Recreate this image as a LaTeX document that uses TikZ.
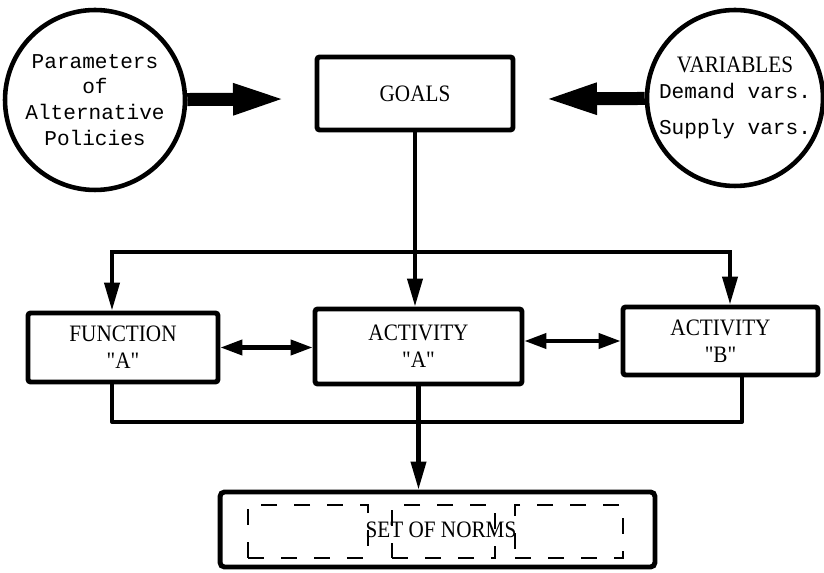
\documentclass[tikz,border=0pt]{standalone}
\usepackage{fontspec}
\setmainfont{Liberation Serif}[Ligatures=TeXOff, FakeStretch=0.9]
\setmonofont{Liberation Mono}
\usepackage{tikz}
\usetikzlibrary{positioning}
\usetikzlibrary{calc}
\usetikzlibrary{arrows.meta}

\begin{document}
\begin{tikzpicture}[x=0.02cm, y=-0.02cm]
	\tikzstyle{circ}=[circle, draw=black, line width=2.6pt, inner sep=0pt, align=center, font=\fontsize{12}{14.7}\ttfamily]
	\tikzstyle{box}=[rectangle, draw=black, line width=2.8pt, rounded corners=1.5pt, align=center, font=\fontsize{13.4}{15.3}\selectfont]
	\tikzstyle{normbox}=[rectangle, draw=black, line width=1.3pt, dash pattern=on 0.32cm off 0.34cm, minimum height=1.06cm]
	\tikzstyle{fat}=[line width=7.4pt, -{Triangle[length=1.08cm, width=0.56cm]}]
	\tikzstyle{link}=[line width=2.3pt, >={Triangle[length=0.56cm, width=0.3cm]}]
	\tikzstyle{twin}=[line width=2.3pt, {Triangle[length=0.44cm, width=0.3cm]}-{Triangle[length=0.44cm, width=0.3cm]}]

	\useasboundingbox (0,0) rectangle (824,573);

	\draw node at (95, 100) [circ, minimum size=3.6cm] (param) {Parameters\\of\\Alternative\\Policies};
	\draw node at (735, 98) [circ, minimum size=3.52cm] (vars) {{\rmfamily\fontsize{13.4}{14.7}\selectfont VARIABLES}\\Demand vars.\\[6pt]Supply vars.};
	\draw node at (415, 93.5) [box, minimum width=3.92cm, minimum height=1.46cm] (goals) {GOALS};

	\coordinate (goalsin) at (287, 99);
	\coordinate (varsin) at (543, 99);
	\draw [fat] (param) to (goalsin);
	\draw [fat] (vars) to (varsin);

	\draw node at (123, 347.5) [box, minimum width=3.8cm, minimum height=1.38cm] (func) {FUNCTION\\"A"};
	\draw node at (418.5, 346.5) [box, minimum width=4.14cm, minimum height=1.5cm] (acta) {ACTIVITY\\"A"};
	\draw node at (720.5, 341) [box, minimum width=3.9cm, minimum height=1.36cm] (actb) {ACTIVITY\\"B"};

	% goals feed all three
	\coordinate (fork) at (415, 252);
	\draw [link, ->] (goals.south) to (goals.south |- acta.north);
	\draw [link, ->] (fork) -| ([xshift=-0.22cm]func.north);
	\draw [link, ->] (fork) -| ([xshift=0.19cm]actb.north);

	\draw [twin] (func.east) to (func.east -| acta.west);
	\draw [twin] (acta.east |- actb.west) to (actb.west);

	\draw node at (308, 531.5) [normbox, minimum width=2.4cm] (n1) {};
	\draw node at (443.5, 531.5) [normbox, minimum width=2.06cm] (n2) {};
	\draw node at (569, 531.5) [normbox, minimum width=2.16cm] (n3) {};
	\draw node at (437.5, 529.5) [box, minimum width=8.7cm, minimum height=1.5cm, rounded corners=2.5pt] (norms) {\hspace{0.14cm}SET OF NORMS};

	\coordinate (merge) at (418.5, 422);
	\draw [link, line join=round] ([xshift=-0.22cm]func.south) |- (merge) -| ([xshift=0.43cm]actb.south);
	\draw [link, ->] (acta.south) to (acta.south |- norms.north);
\end{tikzpicture}
\end{document}
